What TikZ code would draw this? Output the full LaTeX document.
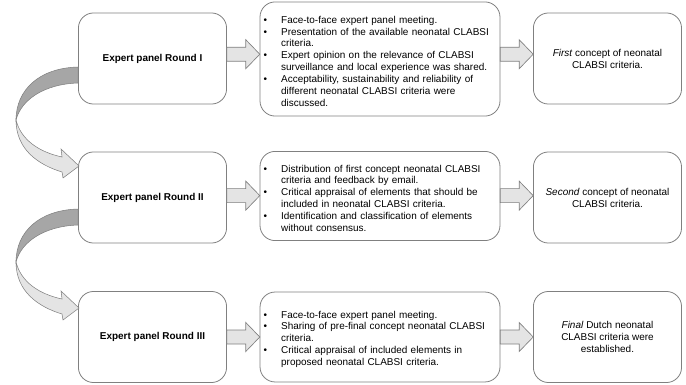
\documentclass[tikz,border=0pt]{standalone}
\usepackage{fontspec}
\setmainfont{Liberation Sans}
\usepackage{enumitem}
\setlist[itemize]{label=\textbullet, leftmargin=0.48cm, labelsep=0.37cm, itemsep=0pt, topsep=0pt, parsep=0pt, partopsep=0pt}
\usepackage{xcolor}
\usepackage{tikz}
\usetikzlibrary{arrows.meta,positioning,calc}
\definecolor{edgegray}{HTML}{808080}
\definecolor{lightfill}{HTML}{E4E4E4}
\definecolor{darkfill}{HTML}{A6A6A6}

\begin{document}
\begin{tikzpicture}[
  box/.style={draw=edgegray, line width=0.6pt, fill=white, rounded corners=0.4cm, minimum width=3.92cm, minimum height=2.41cm, align=center, font={\fontsize{7.5}{9}\selectfont}},
  lead/.style={box, font={\fontsize{7.5}{9}\selectfont\bfseries}},
  list/.style={box, minimum width=6.35cm, text width=6.19cm, inner sep=0.08cm, align=left},
  back/.style={draw=edgegray, line width=0.4pt, fill=darkfill},
  front/.style={draw=edgegray, line width=0.4pt, fill=lightfill},
  fat/.pic={\draw[front, line width=0.5pt, x=0.02646cm, y=-0.02646cm] (-16.5,-7) -- (2.5,-7) -- (2.5,-14.5) -- (16.5,0) -- (2.5,14.5) -- (2.5,7) -- (-16.5,7) -- cycle;}
]
\useasboundingbox (0,0) rectangle (18.152,-10.161);
% round I
\node[lead] (l1) at (4.035,-1.548) {Expert panel Round I};
\node[list, minimum height=3.02cm] (m1) at (10.055,-1.561) {\begin{itemize}
\item Face-to-face expert panel meeting.
\item Presentation of the available neonatal CLABSI\newline criteria.
\item Expert opinion on the relevance of CLABSI\newline surveillance and local experience was shared.
\item Acceptability, sustainability and reliability of\newline different neonatal CLABSI criteria were\newline discussed.
\end{itemize}};
\node[box] (r1) at (16.074,-1.548) {\textit{First} concept of neonatal\\CLABSI criteria.};
% round II
\node[lead] (l2) at (4.035,-5.226) {Expert panel Round II};
\node[list, minimum height=2.36cm] (m2) at (10.055,-5.186) {\begin{itemize}
\item Distribution of first concept neonatal CLABSI\newline criteria and feedback by email.
\item Critical appraisal of elements that should be\newline included in neonatal CLABSI criteria.
\item Identification and classification of elements\newline without consensus.
\end{itemize}};
\node[box] (r2) at (16.074,-5.226) {\textit{Second} concept of neonatal\\CLABSI criteria.};
% round III
\node[lead] (l3) at (4.035,-8.917) {Expert panel Round III};
\node[list, minimum height=2.38cm] (m3) at (10.055,-8.917) {\begin{itemize}
\item Face-to-face expert panel meeting.
\item Sharing of pre-final concept neonatal CLABSI\newline criteria.
\item Critical appraisal of included elements in\newline proposed neonatal CLABSI criteria.
\end{itemize}};
\node[box] (r3) at (16.074,-8.917) {\textit{Final} Dutch neonatal\\CLABSI criteria were\\established.};
% block arrows
\pic at ($(l1.east)!0.5!(m1.west)+(0,0.12)$) {fat};
\pic at ($(m1.east)!0.5!(r1.west)+(0,0.12)$) {fat};
\pic at ($(l2.east)!0.5!(m2.west)+(0,0.03)$) {fat};
\pic at ($(m2.east)!0.5!(r2.west)+(0,0.03)$) {fat};
\pic at ($(l3.east)!0.5!(m3.west)$) {fat};
\pic at ($(m3.east)!0.5!(r3.west)$) {fat};
% curved arrows
\begin{scope}[shift={(l1.west)}, x=0.02646cm, y=-0.02646cm]
\draw[back] (0,8.5) .. controls (-39,9.5) and (-62,31.5) .. (-62,61.5) .. controls (-57,41.5) and (-34,25.5) .. (0,24.5) -- cycle;
\draw[front] (-62,61.5) .. controls (-62,91.5) and (-39,106.5) .. (-16,113.5) -- (-15,119.5) -- (1,107.5) -- (-17,90.5) -- (-16,98.5) .. controls (-39,93.5) and (-57,81.5) .. (-62,61.5) -- cycle;
\end{scope}
\begin{scope}[shift={([yshift=-0.08cm]l2.west)}, x=0.02646cm, y=-0.02646cm]
\draw[back] (0,8.5) .. controls (-39,9.5) and (-62,31.5) .. (-62,61.5) .. controls (-57,41.5) and (-34,25.5) .. (0,24.5) -- cycle;
\draw[front] (-62,61.5) .. controls (-62,91.5) and (-39,106.5) .. (-16,113.5) -- (-15,119.5) -- (1,107.5) -- (-17,90.5) -- (-16,98.5) .. controls (-39,93.5) and (-57,81.5) .. (-62,61.5) -- cycle;
\end{scope}
\end{tikzpicture}
\end{document}
